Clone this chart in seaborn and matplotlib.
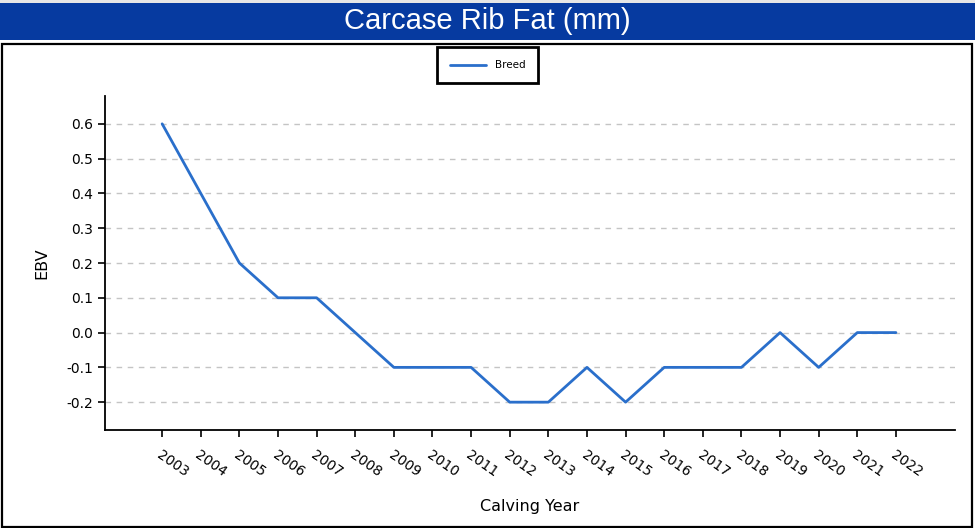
import pandas as pd
import matplotlib.pyplot as plt
import seaborn as sns
from matplotlib.patches import Rectangle

# Breed average EBV per calving year
years = [2003, 2004, 2005, 2006, 2007, 2008, 2009, 2010, 2011, 2012,
         2013, 2014, 2015, 2016, 2017, 2018, 2019, 2020, 2021, 2022]
breed_ebv = [0.6, 0.4, 0.2, 0.1, 0.1, 0.0, -0.1, -0.1, -0.1, -0.2,
             -0.2, -0.1, -0.2, -0.1, -0.1, -0.1, 0.0, -0.1, 0.0, 0.0]
y_ticks = [-0.2, -0.1, 0.0, 0.1, 0.2, 0.3, 0.4, 0.5, 0.6]

df = pd.DataFrame({'Calving Year': years, 'EBV': breed_ebv})

sns.set_style('white')
plt.rcParams['font.family'] = ['DejaVu Sans']
plt.rcParams['text.color'] = 'black'
plt.rcParams['axes.labelcolor'] = 'black'
plt.rcParams['xtick.color'] = 'black'
plt.rcParams['ytick.color'] = 'black'

fig = plt.figure(figsize=(9.75, 5.28), dpi=100)
fig.patch.set_facecolor('white')

# grey strip + blue title bar + black frame
fig.patches.append(Rectangle((0, 1 - 3 / 528), 1, 3 / 528, transform=fig.transFigure,
                             facecolor='#e6e6e6', edgecolor='none', zorder=0))
fig.patches.append(Rectangle((0, 1 - 40 / 528), 1, 37 / 528, transform=fig.transFigure,
                             facecolor='#063aa0', edgecolor='none', zorder=0))
fig.patches.append(Rectangle((1.5 / 975, 1.5 / 528), 970 / 975, 483 / 528,
                             transform=fig.transFigure, facecolor='none',
                             edgecolor='black', linewidth=1.6, zorder=0))
fig.text(0.5, 1 - 21 / 528, 'Carcase Rib Fat (mm)', color='white', fontsize=21,
         ha='center', va='center', family='Liberation Sans')

ax = fig.add_axes([105 / 975, 1 - 430 / 528, 850 / 975, 334 / 528])
sns.lineplot(data=df, x='Calving Year', y='EBV', ax=ax, color='#2a6fcb',
             linewidth=2, label='Breed')

ax.set_xlim(2001.52, 2023.53)
ax.set_ylim(-0.28, 0.68)
ax.set_xticks(years)
ax.set_xticklabels([str(y) for y in years], rotation=-35, ha='left',
                   rotation_mode='anchor', fontsize=10)
ax.set_yticks(y_ticks)
ax.set_yticklabels([f'{v:.1f}' for v in y_ticks], fontsize=10)
ax.tick_params(axis='both', length=5, width=1.2, color='black', labelcolor='black',
               direction='out', bottom=True, left=True)
ax.tick_params(axis='x', pad=8)
ax.yaxis.grid(True, linestyle=(0, (4, 4)), color='#c4c4c4', linewidth=1)
ax.xaxis.grid(False)
for s in ['top', 'right']:
    ax.spines[s].set_visible(False)
for s in ['left', 'bottom']:
    ax.spines[s].set_color('black')
    ax.spines[s].set_linewidth(1.3)

ax.set_xlabel('Calving Year', fontsize=11.5, labelpad=14, color='black')
ax.set_ylabel('EBV', fontsize=11.5, labelpad=12, color='black')

leg = ax.legend(loc='upper center', bbox_to_anchor=(0.5 - (105 + 850 / 2 - 487.5) / 850, 1 + 54 / 334),
                fontsize=7.5, frameon=True, fancybox=False, edgecolor='black',
                framealpha=1, handlelength=3.5, borderpad=1.25)
leg.get_frame().set_linewidth(2)

plt.savefig('out.png', dpi=100)
